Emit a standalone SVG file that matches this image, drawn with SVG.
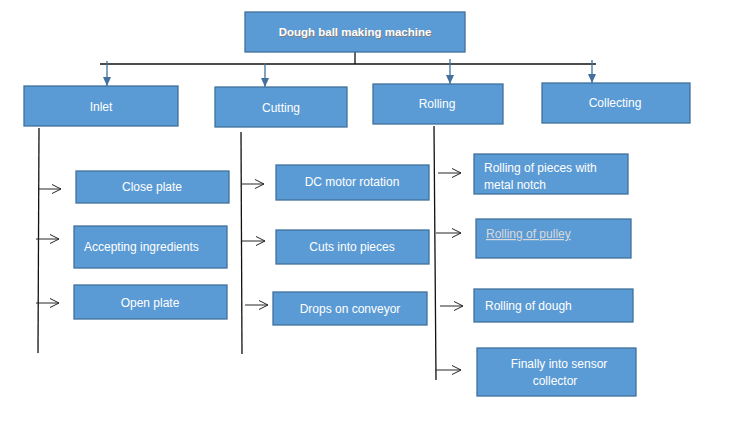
<svg xmlns="http://www.w3.org/2000/svg" width="729" height="424" viewBox="0 0 729 424">
<defs>
<marker id="down" markerWidth="10" markerHeight="8" refX="9" refY="4" orient="auto" markerUnits="userSpaceOnUse">
<path d="M0,0 L9,4 L0,8 Z" fill="#41719C"/>
</marker>
<marker id="open" markerWidth="12" markerHeight="12" refX="10" refY="6" orient="auto" markerUnits="userSpaceOnUse">
<path d="M1,1.5 L10,6 L1,10.5" fill="none" stroke="#262626" stroke-width="1"/>
</marker>
</defs>
<style>
.box{fill:#5B9BD5;stroke:#41719C;stroke-width:1.3}
.t{font-family:"Liberation Sans",Arial,sans-serif;font-size:12px;fill:#FFFFFF}
.c{text-anchor:middle}
.trunk{stroke:#111;stroke-width:1.3;fill:none}
.br{stroke:#262626;stroke-width:1;fill:none;marker-end:url(#open)}
.dn{stroke:#41719C;stroke-width:1.3;fill:none;marker-end:url(#down)}
</style>
<rect width="729" height="424" fill="#FFFFFF"/>
<g id="connectors">
<line class="trunk" x1="355" y1="52" x2="355" y2="64"/>
<line class="trunk" x1="100" y1="64" x2="596" y2="64"/>
<line class="dn" x1="107" y1="61" x2="107" y2="86"/>
<line class="dn" x1="265" y1="63" x2="265" y2="87"/>
<line class="dn" x1="450" y1="59" x2="450" y2="84"/>
<line class="dn" x1="592" y1="60" x2="592" y2="83" stroke-width="1"/>
<line class="trunk" x1="39" y1="128" x2="38" y2="353"/>
<line class="trunk" x1="241" y1="132" x2="242" y2="354"/>
<line class="trunk" x1="434" y1="126" x2="436" y2="380"/>
<line class="br" x1="38" y1="189" x2="61" y2="189"/>
<line class="br" x1="36" y1="239" x2="59" y2="239"/>
<line class="br" x1="36" y1="303" x2="59" y2="303"/>
<line class="br" x1="242" y1="184" x2="264" y2="184"/>
<line class="br" x1="242" y1="241" x2="265" y2="241"/>
<line class="br" x1="245" y1="305" x2="268" y2="305"/>
<line class="br" x1="438" y1="173" x2="461" y2="173"/>
<line class="br" x1="436" y1="233" x2="461" y2="233"/>
<line class="br" x1="440" y1="306" x2="463" y2="306"/>
<line class="br" x1="436" y1="370" x2="461" y2="370"/>
</g>
<g id="title">
<rect class="box" x="245" y="12" width="220" height="40"/>
<text x="356" y="37" class="c" font-family="Liberation Sans,Arial,sans-serif" font-size="11.5" font-weight="bold" fill="#7F7F7F">Dough ball making machine</text>
<text x="355" y="36" class="c" font-family="Liberation Sans,Arial,sans-serif" font-size="11.5" font-weight="bold" fill="#FFFFFF">Dough ball making machine</text>
</g>
<g id="inlet">
<rect class="box" x="24" y="86" width="154" height="40"/>
<text class="t c" x="101" y="111">Inlet</text>
</g>
<g id="cutting">
<rect class="box" x="215" y="87" width="132" height="40"/>
<text class="t c" x="281" y="112">Cutting</text>
</g>
<g id="rolling">
<rect class="box" x="373" y="84" width="130" height="40"/>
<text class="t c" x="437" y="108">Rolling</text>
</g>
<g id="collecting">
<rect class="box" x="542" y="83" width="148" height="40"/>
<text class="t c" x="615" y="107">Collecting</text>
</g>
<g id="close-plate">
<rect class="box" x="76" y="171" width="153" height="32"/>
<text class="t c" x="152" y="191">Close plate</text>
</g>
<g id="accepting">
<rect class="box" x="74" y="226" width="153" height="42"/>
<text class="t" x="84" y="251">Accepting ingredients</text>
</g>
<g id="open-plate">
<rect class="box" x="74" y="285" width="153" height="34"/>
<text class="t c" x="150" y="307">Open plate</text>
</g>
<g id="dc-motor">
<rect class="box" x="276" y="165" width="153" height="35"/>
<text class="t c" x="352" y="186">DC motor rotation</text>
</g>
<g id="cuts">
<rect class="box" x="276" y="230" width="153" height="34"/>
<text class="t c" x="352" y="251">Cuts into pieces</text>
</g>
<g id="drops">
<rect class="box" x="273" y="292" width="154" height="33"/>
<text class="t c" x="350" y="313">Drops on conveyor</text>
</g>
<g id="rolling-pieces">
<rect class="box" x="474" y="154" width="154" height="40"/>
<text class="t" x="484" y="172">Rolling of pieces with</text>
<text class="t" x="484" y="189">metal notch</text>
</g>
<g id="rolling-pulley">
<rect class="box" x="476" y="219" width="155" height="39"/>
<text class="t" x="486" y="238" style="fill:#D9D9D9" text-decoration="underline">Rolling of pulley</text>
</g>
<g id="rolling-dough">
<rect class="box" x="474" y="289" width="159" height="33"/>
<text class="t" x="485" y="310">Rolling of dough</text>
</g>
<g id="finally">
<rect class="box" x="477" y="348" width="159" height="48"/>
<text class="t c" x="559" y="368">Finally into sensor</text>
<text class="t c" x="555" y="385">collector</text>
</g>
</svg>
